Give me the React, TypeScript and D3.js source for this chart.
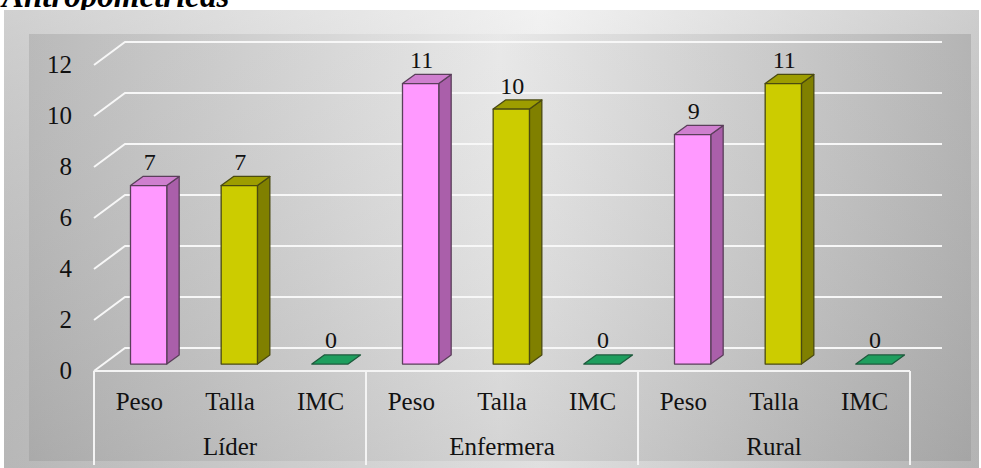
import * as React from 'react'
import * as d3 from 'd3'

const categories = ['Líder', 'Enfermera', 'Rural']
const series = ['Peso', 'Talla', 'IMC']
const values = [
    [7, 7, 0],
    [11, 10, 0],
    [9, 11, 0],
]
const yTicks = [0, 2, 4, 6, 8, 10, 12]
const title = 'Antropométricas'

const W = 981
const H = 468
const FONT = '"Liberation Serif", "Times New Roman", serif'

// colours per series: front, side, top, outline
const palette = [
    { front: '#ff99ff', side: '#aa5faa', top: '#cf7fcf', stroke: '#5a3f5a' },
    { front: '#cccc00', side: '#808000', top: '#9d9d00', stroke: '#4a4a10' },
    { front: '#1e9e5e', side: '#147a46', top: '#22a466', stroke: '#1d5a3c' },
]

// depth of the 3D floor
const DX = 31
const DY = -23

export default function App () {
    const x0 = d3.scaleBand().domain(categories).range([94, 910])
    const x1 = d3.scaleBand().domain(series).range([0, x0.bandwidth()])
    const y = d3.scaleLinear().domain([0, 12]).range([371, 65])
    const barW = x1.bandwidth() * 0.4
    const f0 = 0.3
    const f1 = 0.7
    const bdx = DX * (f1 - f0)
    const bdy = DY * (f1 - f0)

    const bars: JSX.Element[] = []
    categories.forEach((c, ci) => {
        series.forEach((s, si) => {
            const v = values[ci][si]
            const col = palette[si]
            const cx = (x0(c) as number) + (x1(s) as number) + x1.bandwidth() / 2 + DX * f0
            const xl = cx - barW / 2
            const xr = cx + barW / 2
            const yb = y(0) + DY * f0
            const yt = y(v) + DY * f0
            const sw = 1.3
            if (v === 0) {
                bars.push(<g key={`${c}-${s}`}>
                    <path d={`M${xl},${yb}L${xr},${yb}L${xr + bdx},${yb + bdy}L${xl + bdx},${yb + bdy}Z`}
                        fill={col.front} stroke={col.stroke} strokeWidth={sw} strokeLinejoin="round" />
                    <text x={cx + 1} y={yb + bdy - 7} textAnchor="middle" fontSize={24} fontFamily={FONT} fill="#111">{v}</text>
                </g>)
                return
            }
            bars.push(<g key={`${c}-${s}`} stroke={col.stroke} strokeWidth={sw} strokeLinejoin="round">
                <path d={`M${xr},${yb}L${xr + bdx},${yb + bdy}L${xr + bdx},${yt + bdy}L${xr},${yt}Z`} fill={col.side} />
                <path d={`M${xl},${yt}L${xr},${yt}L${xr + bdx},${yt + bdy}L${xl + bdx},${yt + bdy}Z`} fill={col.top} />
                <rect x={xl} y={yt} width={barW} height={yb - yt} fill={col.front} />
                <text x={cx + 1} y={yt + bdy - 6} textAnchor="middle" fontSize={24} fontFamily={FONT} fill="#111" stroke="none">{v}</text>
            </g>)
        })
    })

    const left = 94
    const right = 910
    const catBoundaries = [...categories.map(c => x0(c) as number), right]

    return <div style={{ position: 'fixed', left: 0, top: 0, width: W, height: H, background: '#fff' }}>
        <svg width={W} height={H} style={{ display: 'block' }}>
            <defs>
                <linearGradient id="outerG" x1="0" y1="0" x2="1" y2="0">
                    <stop offset="0" stopColor="#bcbcbc" />
                    <stop offset="0.55" stopColor="#ececec" />
                    <stop offset="1" stopColor="#b8b8b8" />
                </linearGradient>
                <linearGradient id="outerV" x1="0" y1="0" x2="0" y2="1">
                    <stop offset="0" stopColor="#ffffff" stopOpacity="0.3" />
                    <stop offset="1" stopColor="#999999" stopOpacity="0.15" />
                </linearGradient>
                <linearGradient id="innerG" x1="0" y1="0" x2="1" y2="0">
                    <stop offset="0" stopColor="#b2b2b2" />
                    <stop offset="0.5" stopColor="#e6e6e6" />
                    <stop offset="1" stopColor="#acacac" />
                </linearGradient>
                <linearGradient id="innerV" x1="0" y1="0" x2="0" y2="1">
                    <stop offset="0" stopColor="#ffffff" stopOpacity="0.1" />
                    <stop offset="1" stopColor="#8a8a8a" stopOpacity="0.2" />
                </linearGradient>
            </defs>

            <text x={2} y={7} fontFamily={FONT} fontStyle="italic" fontWeight="bold" fontSize={33} fill="#000">{title}</text>

            <rect x={4} y={10} width={W - 6} height={H - 10} fill="url(#outerG)" />
            <rect x={4} y={10} width={W - 6} height={H - 10} fill="url(#outerV)" />
            <rect x={29} y={34} width={942} height={427} fill="url(#innerG)" />
            <rect x={29} y={34} width={942} height={427} fill="url(#innerV)" />

            {/* gridlines: side wall diagonal + back wall */}
            {yTicks.map(t => <path key={t}
                d={`M${left},${y(t)}L${left + DX},${y(t) + DY}L${right + DX + 1},${y(t) + DY}`}
                fill="none" stroke="#f7f7f7" strokeWidth={2} />)}

            {/* category table */}
            <line x1={left} x2={right} y1={y(0)} y2={y(0)} stroke="#f4f4f4" strokeWidth={2} />
            {catBoundaries.map((bx, i) => <line key={i} x1={bx} x2={bx} y1={y(0)} y2={465} stroke="#f4f4f4" strokeWidth={2} />)}

            {yTicks.map(t => <text key={t} x={72} y={y(t) + 8} textAnchor="end" fontSize={25} fontFamily={FONT} fill="#111">{t}</text>)}

            {categories.map(c => series.map(s => <text key={`${c}-${s}`}
                x={(x0(c) as number) + (x1(s) as number) + x1.bandwidth() / 2} y={410}
                textAnchor="middle" fontSize={25} fontFamily={FONT} fill="#111">{s}</text>))}
            {categories.map(c => <text key={c} x={(x0(c) as number) + x0.bandwidth() / 2} y={455}
                textAnchor="middle" fontSize={25} fontFamily={FONT} fill="#111">{c}</text>)}

            {bars}
        </svg>
    </div>
}
